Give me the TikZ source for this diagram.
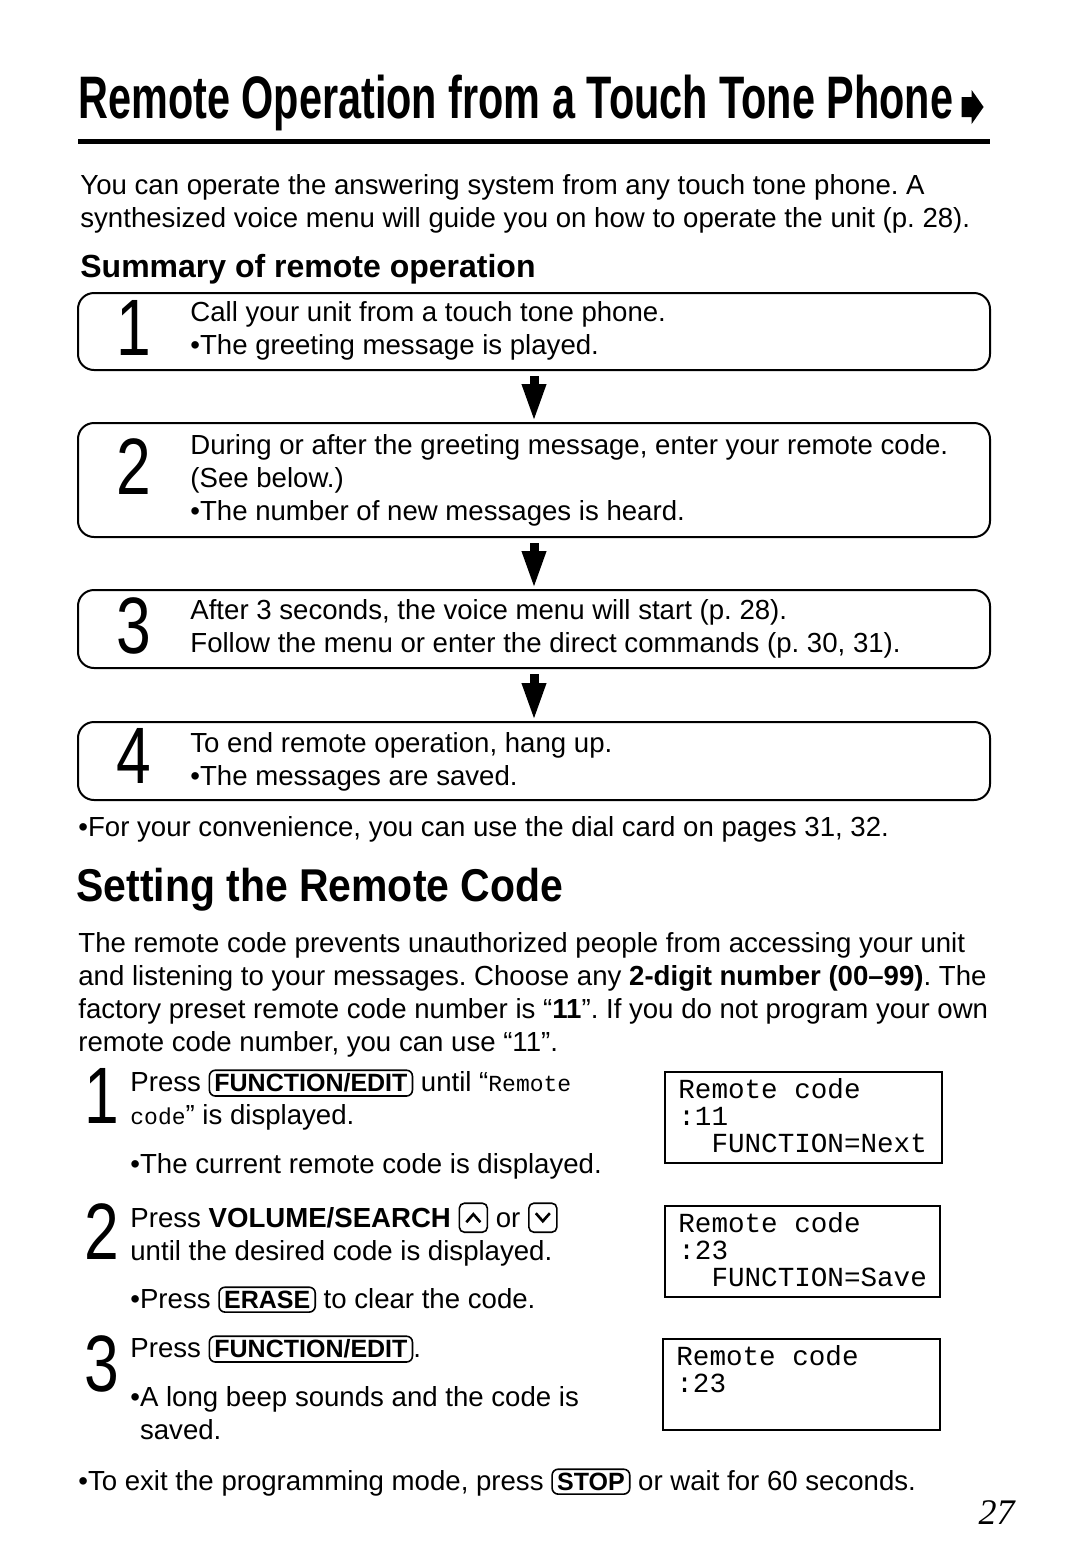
\documentclass[tikz,border=0pt]{standalone}
\usepackage{fontspec}
\setmainfont{Liberation Sans}
\setmonofont{Liberation Mono}
\newfontfamily\titlefamily[FakeStretch=0.69]{Liberation Sans}
\newfontfamily\headfamily[FakeStretch=0.89]{Liberation Sans}
\newfontfamily\digitfamily[FakeStretch=0.78]{Liberation Sans}
\newfontfamily\pagefamily{Liberation Serif}
\usetikzlibrary{arrows.meta, positioning}

\newcommand{\bodyfont}{\frenchspacing\fontsize{13.8}{16.5}\selectfont}
\newcommand{\stepnumfont}{\digitfamily\fontsize{40}{40}\selectfont}
\newcommand{\lcdfont}{\ttfamily\fontsize{13.8}{13.5}\selectfont}
\newcommand{\monoword}[1]{{\ttfamily\fontsize{11.5}{16.5}\selectfont #1}}
\newcommand{\keycap}[1]{\tikz[baseline=(key.base)]\node[draw, line width=0.8pt, rounded corners=3pt, inner xsep=2.5pt, inner ysep=1.8pt, anchor=base] (key) {\fontsize{12.5}{12.5}\selectfont\bfseries #1};}
% up / down keys: rounded square with a chevron
\newcommand{\upkey}{\tikz[baseline=2.5pt]{\draw[line width=0.8pt, rounded corners=2.5pt] (0,0) rectangle (14pt,14.5pt); \draw[line width=1.3pt] (3.5pt,5pt) -- (7pt,9pt) -- (10.5pt,5pt);}}
\newcommand{\downkey}{\tikz[baseline=2.5pt]{\draw[line width=0.8pt, rounded corners=2.5pt] (0,0) rectangle (14pt,14.5pt); \draw[line width=1.3pt] (3.5pt,9.5pt) -- (7pt,5.5pt) -- (10.5pt,9.5pt);}}

\begin{document}
\begin{tikzpicture}[x=0.5pt, y=-0.5pt,
    stepbox/.style={draw, line width=1pt, rounded corners=8pt, minimum width=456pt, inner sep=0pt},
    lcdbox/.style={draw, line width=0.9pt, minimum height=45.5pt, inner sep=0pt},
    txt/.style={anchor=north west, inner sep=0pt, align=left, font=\bodyfont},
    num/.style={anchor=north, inner sep=0pt, font=\stepnumfont},
    flowarrow/.style={line width=4.5pt, -{Triangle[length=19pt, width=11pt]}, shorten <=2.5pt}
]
\fill[white] (0,0) rectangle (1080,1554);
\useasboundingbox (0,0) rectangle (1080,1554);

% title
\node[anchor=base west, inner sep=0pt, font=\titlefamily\bfseries\fontsize{30}{30}\selectfont] (title) at (78,118) {Remote Operation from a Touch Tone Phone};
\fill[shift={(title.base east)}] (8,-21) -- (18,-21) -- (18,-28) -- (30,-11) -- (18,6) -- (18,-1) -- (8,-1) -- cycle;
\draw[line width=2.5pt] (78,141) -- (990,141);

\node[txt] (intro) at (80,174) {You can operate the answering system from any touch tone phone. A\\synthesized voice menu will guide you on how to operate the unit (p.~28).};
\node[txt, font=\bfseries\fontsize{16}{16}\selectfont] (summary) at (80,254) {Summary of remote operation};

% summary steps
\node[stepbox, minimum height=38.5pt] (s1) at (534,331.5) {};
\node[stepbox, minimum height=57pt] (s2) at (534,480) {};
\node[stepbox, minimum height=39pt] (s3) at (534,629) {};
\node[stepbox, minimum height=39pt] (s4) at (534,761) {};

\node[num] (n1) at (134,300) {1};
\node[num] (n2) at (134,438) {2};
\node[num] (n3) at (134,597) {3};
\node[num] (n4) at (134,728) {4};

\node[txt] (t1) at (190,301) {Call your unit from a touch tone phone.\\\textbullet The greeting message is played.};
\node[txt] (t2) at (190,434) {During or after the greeting message, enter your remote code.\\(See below.)\\\textbullet The number of new messages is heard.};
\node[txt] (t3) at (190,599) {After 3 seconds, the voice menu will start (p.~28).\\Follow the menu or enter the direct commands (p.~30, 31).};
\node[txt] (t4) at (190,732) {To end remote operation, hang up.\\\textbullet The messages are saved.};

\draw[flowarrow] (s1) -- (s2);
\draw[flowarrow] (s2) -- (s3);
\draw[flowarrow] (s3) -- (s4);

\node[txt] (conv) at (78,816) {\textbullet For your convenience, you can use the dial card on pages 31, 32.};

% setting the remote code
\node[anchor=north west, inner sep=0pt, font=\headfamily\bfseries\fontsize{23}{23}\selectfont] (setting) at (76,868) {Setting the Remote Code};
\node[txt] (para) at (78,932) {The remote code prevents unauthorized people from accessing your unit\\and listening to your messages. Choose any \textbf{2-digit number (00--99)}. The\\factory preset remote code number is “\textbf{11}”. If you do not program your own\\remote code number, you can use “11”.};

\node[num] (m1) at (102,1068) {1};
\node[txt] (u1) at (130,1069) {Press \keycap{FUNCTION/EDIT} until “\monoword{Remote}\\\monoword{code}” is displayed.};
\node[txt] (u1b) at (130,1153) {\textbullet The current remote code is displayed.};
\node[num] (m2) at (102,1203) {2};
\node[txt] (u2) at (130,1202) {Press \textbf{VOLUME/SEARCH} \upkey\ or \downkey\\until the desired code is displayed.};
\node[txt] (u2b) at (130,1286) {\textbullet Press \keycap{ERASE} to clear the code.};
\node[num] (m3) at (102,1335) {3};
\node[txt] (u3) at (130,1335) {Press \keycap{FUNCTION/EDIT}.};
\node[txt] (u3b) at (130,1386) {\textbullet A long beep sounds and the code is\\\phantom{\textbullet}saved.};

% displays
\node[lcdbox, minimum width=138.5pt] (lcd1) at (803.5,1117.5) {};
\node[lcdbox, minimum width=137.5pt] (lcd2) at (802.5,1251.5) {};
\node[lcdbox, minimum width=138.5pt] (lcd3) at (801.5,1384.5) {};
\node[txt, font=\lcdfont] (d1) at (678,1078) {Remote code\\:11\\\phantom{AA}FUNCTION=Next};
\node[txt, font=\lcdfont] (d2) at (678,1212) {Remote code\\:23\\\phantom{AA}FUNCTION=Save};
\node[txt, font=\lcdfont] (d3) at (676,1345) {Remote code\\:23};

\node[txt] (exit) at (78,1468) {\textbullet To exit the programming mode, press \keycap{STOP} or wait for 60 seconds.};
\node[anchor=base east, inner sep=0pt, font=\pagefamily\itshape\fontsize{18}{18}\selectfont] (page) at (1015,1524) {27};
\end{tikzpicture}
\end{document}
